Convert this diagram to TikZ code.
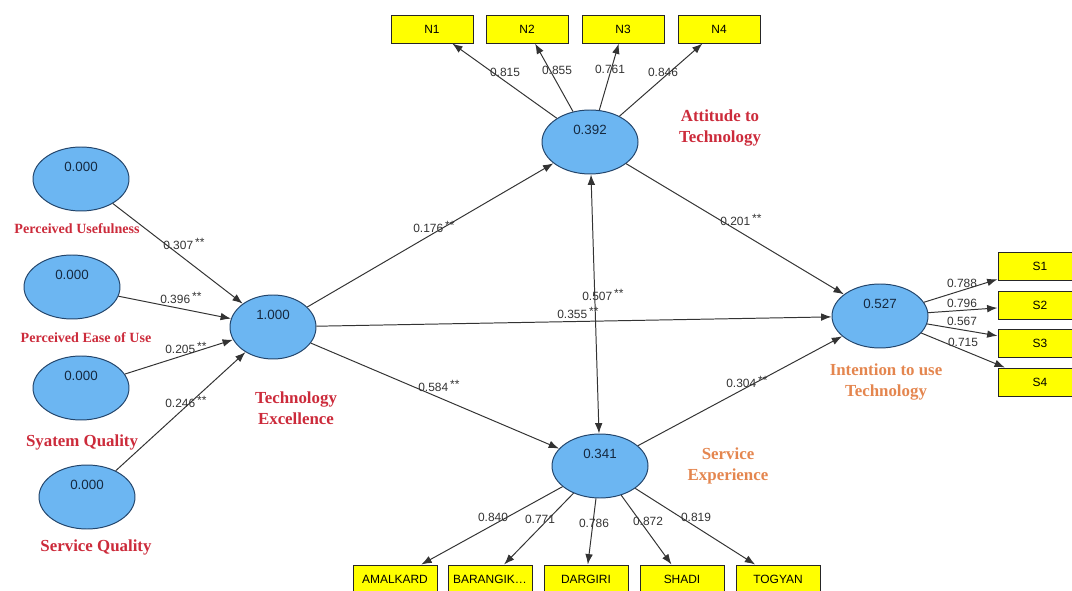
\documentclass[tikz,border=0pt]{standalone}
\usepackage{fontspec}
\setmainfont{Liberation Serif}
\setsansfont{Liberation Sans}
\usetikzlibrary{shapes.geometric,arrows.meta}

\definecolor{latentblue}{HTML}{6CB6F2}
\definecolor{latentedge}{HTML}{23456B}
\definecolor{labelred}{HTML}{CC2B3B}
\definecolor{labelorange}{HTML}{E4864F}
\definecolor{itemyellow}{HTML}{FFFF00}

\newcommand{\stars}{\,\raisebox{0.45ex}{**}}

\begin{document}
\begin{tikzpicture}[
  latent/.style={ellipse, draw=latentedge, fill=latentblue, line width=0.7pt,
    minimum width=2.4cm, minimum height=1.6cm, inner sep=0pt},
  value/.style={font=\sffamily\fontsize{9.5}{11}\selectfont, text=latentedge!60!black, yshift=0.3cm},
  item/.style={draw=black!85, fill=itemyellow, line width=0.7pt,
    minimum width=2.05cm, minimum height=0.7cm, inner sep=0pt,
    font=\sffamily\fontsize{8.5}{10}\selectfont},
  link/.style={-{Latex[length=2.6mm,width=1.9mm]}, draw=black!80, line width=0.7pt},
  linkboth/.style={{Latex[length=2.6mm,width=1.9mm]}-{Latex[length=2.6mm,width=1.9mm]}, draw=black!80, line width=0.7pt},
  coef/.style={font=\sffamily\fontsize{8.5}{10}\selectfont, text=black!80, inner sep=0pt, anchor=base west},
  loading/.style={font=\sffamily\fontsize{8.5}{10}\selectfont, text=black!80, inner sep=0pt},
  tagbig/.style={font=\bfseries\fontsize{12}{15}\selectfont, align=center, inner sep=0pt},
  tagsmall/.style={font=\bfseries\fontsize{10}{12}\selectfont, align=center, inner sep=0pt}
]
\useasboundingbox (0,0) rectangle (26.8,14.75);

% latent variables
\node[latent, label={[value]center:0.000}] (pu)    at (2.025,10.275) {};
\node[latent, label={[value]center:0.000}] (peou)  at (1.8,7.575) {};
\node[latent, label={[value]center:0.000}] (sysq)  at (2.025,5.05) {};
\node[latent, label={[value]center:0.000}] (servq) at (2.175,2.325) {};
\node[latent, minimum width=2.15cm, label={[value]center:1.000}] (te) at (6.825,6.575) {};
\node[latent, label={[value]center:0.392}] (att)   at (14.75,11.2) {};
\node[latent, label={[value]center:0.341}] (se)    at (15.0,3.1) {};
\node[latent, label={[value]center:0.527}] (itu)   at (22.0,6.85) {};

% indicators
\foreach \name/\txt/\x in {n1/N1/10.8, n2/N2/13.175, n3/N3/15.575, n4/N4/17.975}
  \node[item] (\name) at (\x,14.025) {\txt};
\foreach \name/\txt/\y in {s1/S1/8.1, s2/S2/7.125, s3/S3/6.175, s4/S4/5.2}
  \node[item, minimum width=2.1cm] (\name) at (26.0,\y) {\txt};
\foreach \name/\txt/\x in {amal/AMALKARD/9.875, bar/BARANGIK\ldots/12.25, darg/DARGIRI/14.65, shadi/SHADI/17.05, tog/TOGYAN/19.45}
  \node[item, minimum width=2.1cm] (\name) at (\x,0.275) {\txt};

% construct names
\begin{scope}[text=labelred]
  \node[tagsmall] (t-pu)    at (1.925,9.025) {Perceived Usefulness};
  \node[tagsmall] (t-peou)  at (2.15,6.3)    {Perceived Ease of Use};
  \node[tagbig]   (t-sysq)  at (2.05,3.7)    {Syatem Quality};
  \node[tagbig]   (t-servq) at (2.4,1.075)   {Service Quality};
  \node[tagbig]   (t-te)    at (7.4,4.55)    {Technology\\Excellence};
  \node[tagbig]   (t-att)   at (18.0,11.55)  {Attitude to\\Technology};
\end{scope}
\begin{scope}[text=labelorange]
  \node[tagbig] (t-se)  at (18.2,3.1)   {Service\\Experience};
  \node[tagbig] (t-itu) at (22.15,5.2)  {Intention to use\\Technology};
\end{scope}

% structural paths
\draw[link] (pu) -- (te);
\draw[link] (peou) -- (te);
\draw[link] (sysq) -- (te);
\draw[link] (servq) -- (te);
\draw[link] (te) -- (att);
\draw[link] (te) -- (itu);
\draw[link] (te) -- (se);
\draw[link] (att) -- (itu);
\draw[link] (se) -- (itu);
\draw[linkboth] (att) -- (se);

% outer loadings
\foreach \dest in {n1,n2,n3,n4}
  \draw[link] (att) -- (\dest);
\foreach \dest in {s1,s2,s3,s4}
  \draw[link] (itu) -- (\dest);
\foreach \dest in {amal,bar,darg,shadi,tog}
  \draw[link] (se) -- (\dest);

% path coefficients
\node[coef] (c-pu)    at (4.075,8.5125)  {0.307\stars};
\node[coef] (c-peou)  at (4.0,7.1625)    {0.396\stars};
\node[coef] (c-sysq)  at (4.125,5.9125)  {0.205\stars};
\node[coef] (c-servq) at (4.125,4.5625)  {0.246\stars};
\node[coef] (c-att)   at (10.325,8.9375) {0.176\stars};
\node[coef] (c-itu)   at (13.925,6.7875) {0.355\stars};
\node[coef] (c-se)    at (10.45,4.9625)  {0.584\stars};
\node[coef] (c-both)  at (14.55,7.2375)  {0.507\stars};
\node[coef] (c-attitu) at (18.0,9.1125)  {0.201\stars};
\node[coef] (c-seitu)  at (18.15,5.0625) {0.304\stars};

% loading values
\node[loading] (l-n1) at (12.625,12.95) {0.815};
\node[loading] (l-n2) at (13.925,13.0)  {0.855};
\node[loading] (l-n3) at (15.25,13.025) {0.761};
\node[loading] (l-n4) at (16.575,12.95) {0.846};
\node[loading] (l-s1) at (24.05,7.675)  {0.788};
\node[loading] (l-s2) at (24.05,7.175)  {0.796};
\node[loading] (l-s3) at (24.05,6.725)  {0.567};
\node[loading] (l-s4) at (24.075,6.2)   {0.715};
\node[loading] (l-amal)  at (12.325,1.825) {0.840};
\node[loading] (l-bar)   at (13.5,1.775)   {0.771};
\node[loading] (l-darg)  at (14.85,1.675)  {0.786};
\node[loading] (l-shadi) at (16.2,1.725)   {0.872};
\node[loading] (l-tog)   at (17.4,1.825)   {0.819};

\end{tikzpicture}
\end{document}
